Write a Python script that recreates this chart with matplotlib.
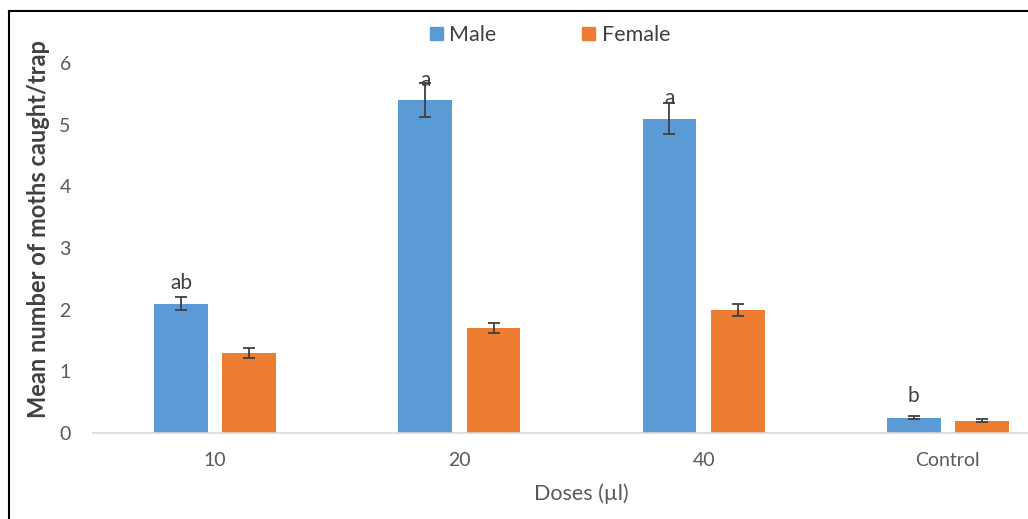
import matplotlib
matplotlib.use("Agg")
import matplotlib.pyplot as plt
from matplotlib.lines import Line2D
import numpy as np

categories = ["10", "20", "40", "Control"]
male = [2.1, 5.4, 5.1, 0.25]
female = [1.3, 1.7, 2.0, 0.2]
male_err = [0.11, 0.27, 0.25, 0.02]
female_err = [0.08, 0.08, 0.10, 0.02]
letters = ["ab", "a", "a", "b"]
letter_y = [2.43, 5.72, 5.43, 0.6]

plt.rcParams['font.family'] = ['Lato', 'DejaVu Sans']
fig = plt.figure(figsize=(10.28, 5.19), dpi=100)
ax = fig.add_axes([93/1028, 1-433/519, (1070-93)/1028, (433-63)/519])

x = np.arange(len(categories))
w = 0.22
off = 0.14
blue = "#5B9BD5"
orange = "#ED7D31"
ekw = dict(ecolor="#404040", elinewidth=1.3, capsize=4, capthick=1.3)
ax.bar(x - off, male, w, yerr=male_err, color=blue, label="Male", error_kw=ekw)
ax.bar(x + off, female, w, yerr=female_err, color=orange, label="Female", error_kw=ekw)

for xi, t, ty in zip(x, letters, letter_y):
    ax.text(xi - off, ty, t, ha="center", va="center", fontsize=15, color="#404040")

ax.set_xlim(-0.5, 3.5)
ax.set_ylim(0, 6)
ax.set_xticks(x)
ax.set_xticklabels(categories)
ax.set_yticks(range(7))
for s in ["top", "right", "left"]:
    ax.spines[s].set_visible(False)
ax.spines["bottom"].set_color("#d9d9d9")
ax.spines["bottom"].set_linewidth(1.2)
ax.tick_params(axis="both", length=0, labelsize=14, colors="#595959")
ax.tick_params(axis="x", pad=14)
ax.tick_params(axis="y", pad=16)
ax.set_xlabel("Doses (µl)", fontsize=15.5, color="#595959", labelpad=10)
ax.set_ylabel("Mean number of moths caught/trap", fontsize=17, fontweight="bold", color="#404040")
ax.yaxis.set_label_coords(-0.044, 0.55)

leg = fig.legend(handles=[plt.Rectangle((0, 0), 1, 1, color=blue), plt.Rectangle((0, 0), 1, 1, color=orange)],
                 labels=["Male", "Female"], loc="center", bbox_to_anchor=(550/1028, 1-35/519),
                 ncol=2, frameon=False, fontsize=15.5, handlelength=0.6, handleheight=0.6,
                 columnspacing=4.0, handletextpad=0.3, labelcolor="#404040")

fig.add_artist(Line2D([9/1028, 9/1028], [0, 1-11/519], color="black", lw=1.5, transform=fig.transFigure))
fig.add_artist(Line2D([9/1028, 1], [1-11/519, 1-11/519], color="black", lw=1.5, transform=fig.transFigure))

fig.savefig("out.png", dpi=100)
